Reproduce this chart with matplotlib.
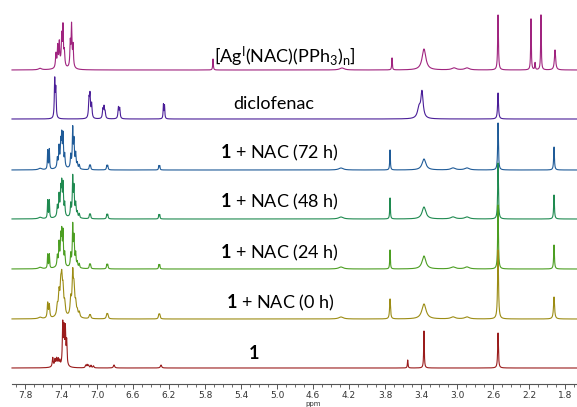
import numpy as np
import matplotlib
matplotlib.use("Agg")
import matplotlib.pyplot as plt

plt.rcParams['font.family'] = ['Lato', 'DejaVu Sans']
plt.rcParams['mathtext.fontset'] = 'custom'
plt.rcParams['mathtext.rm'] = 'Lato'
plt.rcParams['mathtext.bf'] = 'Lato:bold'
plt.rcParams['mathtext.it'] = 'Lato:italic'

# ---------------- data (peak lists) ----------------
trace_names = ["[Ag$^{\\mathrm{I}}$(NAC)(PPh$_{3}$)$_{\\mathrm{n}}$]", "diclofenac",
               "$\\mathbf{1}$ + NAC (72 h)", "$\\mathbf{1}$ + NAC (48 h)",
               "$\\mathbf{1}$ + NAC (24 h)", "$\\mathbf{1}$ + NAC (0 h)", "$\\mathbf{1}$"]
trace_colors = ["#A0247F", "#4A1E98", "#1F5B98", "#1F8A50", "#4C9E22", "#9C8C14", "#9A1C1C"]

ag_ppm = [7.633, 7.456, 7.437, 7.419, 7.392, 7.378, 7.363, 7.400, 7.297, 7.283, 7.266, 7.280,
          5.711, 4.278, 3.722, 3.367, 3.033, 2.889, 2.544, 2.178, 2.133, 2.067, 1.911]
ag_h = [1.5, 14, 20, 22, 27, 37, 14, 6, 23, 38, 20, 5,
        11, 2, 12, 21, 2, 2, 55, 51, 7, 55, 20]
ag_w = [0.02, 0.006, 0.005, 0.005, 0.005, 0.005, 0.006, 0.035, 0.005, 0.005, 0.005, 0.02,
        0.004, 0.03, 0.004, 0.025, 0.03, 0.03, 0.005, 0.004, 0.004, 0.004, 0.008]

dic_ppm = [7.470, 7.458, 7.089, 7.078, 7.060, 6.935, 6.922, 6.910, 6.762, 6.748,
           6.262, 6.250, 3.422, 3.389, 2.544]
dic_h = [38, 28, 18, 22, 14, 9, 11, 6, 11, 10, 14, 13, 10, 26, 26]
dic_w = [0.005, 0.005, 0.006, 0.006, 0.006, 0.006, 0.006, 0.006, 0.006, 0.006,
         0.004, 0.004, 0.02, 0.015, 0.006]

nac_ppm = [7.633, 7.548, 7.530, 7.441, 7.422, 7.403, 7.392, 7.378, 7.359, 7.292, 7.270, 7.256,
           7.237, 7.219, 7.197, 7.083, 7.073, 6.891, 6.881, 6.313, 6.303, 4.289, 3.744, 3.367,
           3.044, 2.889, 2.544, 1.922, 7.400, 7.260]
nac_w = [0.02, 0.004, 0.004, 0.005, 0.005, 0.005, 0.005, 0.005, 0.005, 0.005, 0.005, 0.005,
         0.005, 0.005, 0.005, 0.005, 0.005, 0.005, 0.005, 0.004, 0.004, 0.03, 0.004, 0.025,
         0.03, 0.03, 0.005, 0.005, 0.035, 0.025]
nac72_h = [1.5, 19, 20, 9, 19, 21, 27, 30, 12, 12, 36, 23, 13, 5, 4, 4, 4, 4, 4, 4, 4, 2, 20, 11,
           2, 2, 47, 23, 5, 5]
nac48_h = [1.5, 18, 18, 10, 19, 22, 27, 29, 12, 12, 36, 25, 12, 5, 4, 4, 4, 4, 4, 4, 4, 2, 21, 12,
           2, 2, 56, 24, 6, 5]
nac24_h = [1.5, 14, 14, 10, 21, 24, 28, 31, 12, 12, 38, 25, 12, 5, 4, 4, 4, 4, 4, 4, 4, 2, 19, 13,
           2, 2, 64, 24, 6, 5]
nac0_h = [1.5, 15, 13, 9, 20, 22, 28, 22, 11, 16, 38, 22, 11, 5, 5, 3, 3, 4, 4, 4, 4, 2, 20, 15,
          2, 2, 69, 22, 6, 5]
nac0_w = [0.02, 0.006, 0.006, 0.008, 0.008, 0.008, 0.008, 0.008, 0.008, 0.008, 0.008, 0.008,
          0.008, 0.008, 0.008, 0.007, 0.007, 0.007, 0.007, 0.006, 0.006, 0.03, 0.006, 0.028,
          0.03, 0.03, 0.006, 0.007, 0.035, 0.025]

one_ppm = [7.492, 7.467, 7.448, 7.430, 7.414, 7.450, 7.381, 7.367, 7.352, 7.337, 7.360,
           7.126, 7.110, 7.094, 7.067, 7.040, 6.811, 6.289, 3.548, 3.367, 2.544]
one_h = [9, 6, 6, 6, 5, 3, 40, 32, 33, 23, 5,
         2.5, 3, 2.5, 2.5, 2, 3, 3, 8, 37, 35]
one_w = [0.006, 0.005, 0.005, 0.005, 0.005, 0.03, 0.005, 0.005, 0.005, 0.005, 0.02,
         0.006, 0.006, 0.006, 0.006, 0.006, 0.008, 0.008, 0.004, 0.004, 0.005]

tick_values = [7.8, 7.4, 7.0, 6.6, 6.2, 5.8, 5.4, 5.0, 4.6, 4.2, 3.8, 3.4, 3.0, 2.6, 2.2, 1.8]

# ---------------- layout ----------------
W, H = 577, 407
PX_PER_PPM = 90.0
X_REF, PPM_REF = 25.0, 7.8


def px_to_ppm(x):
    return PPM_REF - (x - X_REF) / PX_PER_PPM


baselines = [70, 119, 170, 219, 269, 319, 368]
label_x = [285, 274, 279, 279, 279, 280, 254]
label_y = [57, 104, 153, 202, 253, 303, 353]

peaks = [(ag_ppm, ag_h, ag_w), (dic_ppm, dic_h, dic_w), (nac_ppm, nac72_h, nac_w),
         (nac_ppm, nac48_h, nac_w), (nac_ppm, nac24_h, nac_w), (nac_ppm, nac0_h, nac0_w),
         (one_ppm, one_h, one_w)]

fig = plt.figure(figsize=(W / 100, H / 100), dpi=100)
ax = fig.add_axes([0, 0, 1, 1])
ax.set_xlim(px_to_ppm(0), px_to_ppm(W))
ax.set_ylim(H, 0)
ax.axis('off')

grid = np.linspace(px_to_ppm(12), px_to_ppm(W), 40000)
for (pp, hh, ww), base, col in zip(peaks, baselines, trace_colors):
    spec = np.zeros_like(grid)
    for p, h, w in zip(pp, hh, ww):
        spec += h / (1.0 + ((grid - p) / w) ** 2)
    ax.plot(grid, base - spec, color=col, lw=0.8, solid_joinstyle='round')

for name, lx, ly in zip(trace_names, label_x, label_y):
    fig.text(lx / W, 1 - ly / H, name, ha='center', va='center', fontsize=13, color='black')

# ppm axis
axis_y = 384
ax2 = fig.add_axes([12 / W, 1 - axis_y / H, (W - 12) / W, 0.0001])
ax2.set_xlim(px_to_ppm(12), px_to_ppm(W))
ax2.set_ylim(0, 1)
for s in ['top', 'left', 'right']:
    ax2.spines[s].set_visible(False)
ax2.spines['bottom'].set_color('#555555')
ax2.spines['bottom'].set_linewidth(0.8)
ax2.set_yticks([])
ax2.set_xticks(tick_values)
ax2.set_xticklabels([f"{v:.1f}" for v in tick_values])
ax2.set_xticks(np.round(np.arange(1.7, 7.95, 0.1), 2), minor=True)
ax2.tick_params(axis='x', which='major', length=3.5, width=0.7, color='#555555',
                labelsize=6.5, labelcolor='#333333', pad=1.5)
ax2.tick_params(axis='x', which='minor', length=2, width=0.6, color='#555555')
for lbl in ax2.get_xticklabels():
    lbl.set_family('DejaVu Sans')
fig.text(313 / W, 0.3 / H, 'ppm', ha='center', va='bottom', fontsize=5,
         color='#333333', family='DejaVu Sans')

fig.savefig('out.png', dpi=100)
